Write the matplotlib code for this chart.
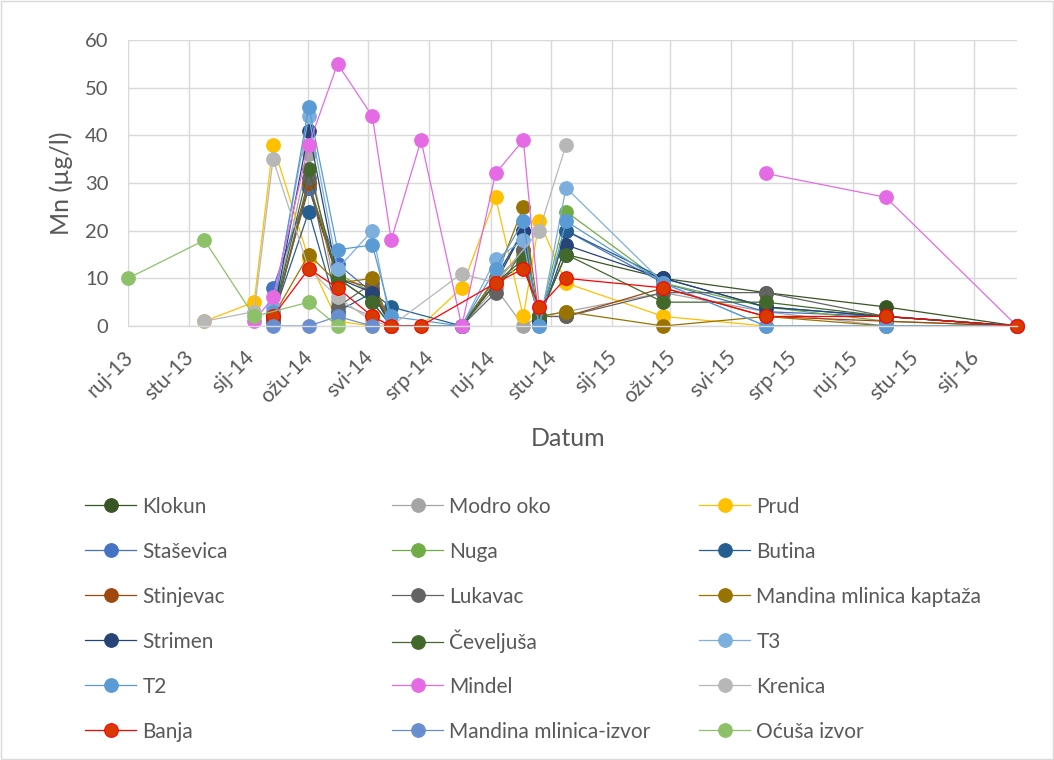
import matplotlib
matplotlib.use('Agg')
import matplotlib.pyplot as plt
import matplotlib.dates as mdates
import matplotlib.transforms as mtransforms
from matplotlib.lines import Line2D
from matplotlib.patches import Rectangle
from matplotlib.ticker import FuncFormatter, MultipleLocator
import datetime as dt

plt.rcParams['font.family'] = ['Lato', 'DejaVu Sans']

N = None          # no sample on that date
G = float('nan')  # break in the line

sample_dates = ['2013-09-01', '2013-11-17', '2014-01-06', '2014-01-25', '2014-03-02',
                '2014-03-31', '2014-05-05', '2014-05-24', '2014-06-23', '2014-08-03',
                '2014-09-06', '2014-10-04', '2014-10-20', '2014-11-16', '2015-02-22',
                '2015-06-05', '2015-10-04', '2016-02-13']

klokun        = [N, N, N, 2, 29, 10, 5, 0, N, 0, 9, 13, 2, 15, 10, 7, 4, 0]
modro_oko     = [N, N, N, 2, 36, 5, 2, 0, N, 0, 8, 0, 2, 3, 7, 3, 0, 0]
prud          = [N, 1, 5, 38, 14, 1, 0, 0, 0, 8, 27, 2, 22, 9, 2, 0, 0, 0]
stasevica     = [N, N, N, 8, 29, 13, 7, 0, N, 0, 10, 20, 1, 20, 9, 3, 2, 0]
nuga          = [N, N, N, 1, 30, 11, 7, 0, N, 0, 10, 15, 1, 24, 9, 4, 1, 0]
butina        = [N, N, N, 2, 24, 3, 7, 4, N, 0, 10, 20, 1, 20, 10, 4, 2, 0]
stinjevac     = [N, N, N, 1, 30, 10, 8, 0, N, 0, 9, 16, 2, 2, 8, 2, 1, 0]
lukavac       = [N, N, N, 1, 31, 4, 9, 0, N, 0, 7, 16, 2, 2, 7, 7, 2, 0]
kaptaza       = [N, N, N, 2, 15, 9, 10, 0, N, 0, 10, 25, 2, 3, 0, 2, 0, 0]
strimen       = [N, N, N, 2, 41, 10, 7, 0, N, 0, 9, 20, 1, 17, 10, 4, 2, 0]
ceveljusa     = [N, N, N, 2, 33, 10, 5, 0, N, 0, 9, 14, 2, 15, 5, 5, 2, 0]
t3            = [N, N, N, 4, 44, 12, 20, 0, N, 0, 14, 18, 0, 29, 9, 0, 0, 0]
t2            = [N, N, N, 3, 46, 16, 17, 2, N, 0, 12, 22, 0, 22, 9, 0, 0, 0]
mindel        = [N, N, 1, 6, 38, 55, 44, 18, 39, 0, 32, 39, 4, G, N, 32, 27, 0]
krenica       = [N, 1, 3, 35, 12, 6, 1, 0, N, 11, 9, N, 20, 38, N, N, N, N]
banja         = [N, N, N, 2, 12, 8, 2, 0, 0, N, 9, 12, 4, 10, 8, 2, 2, 0]
mandina_izvor = [N, N, N, 0, 0, 2, 0, N, N, N, N, N, N, N, N, N, N, N]
ocusa_izvor   = [10, 18, 2, N, 5, 0, N, N, N, N, N, N, N, N, N, N, N, N]

series_names = ['Klokun', 'Modro oko', 'Prud', 'Staševica', 'Nuga', 'Butina',
                'Stinjevac', 'Lukavac', 'Mandina mlinica kaptaža', 'Strimen',
                'Čeveljuša', 'T3', 'T2', 'Mindel', 'Krenica', 'Banja',
                'Mandina mlinica-izvor', 'Oćuša izvor']
series_values = [klokun, modro_oko, prud, stasevica, nuga, butina, stinjevac, lukavac,
                 kaptaza, strimen, ceveljusa, t3, t2, mindel, krenica, banja,
                 mandina_izvor, ocusa_izvor]
series_colors = ['#375623', '#A5A5A5', '#FFC000', '#4472C4', '#70AD47', '#255E91',
                 '#9E480E', '#636363', '#997300', '#264478', '#43682B', '#7CAFDD',
                 '#5B9BD5', '#E46BE4', '#B7B7B7', '#D83B01', '#698ED0', '#8CC168']
line_colors = list(series_colors)
line_colors[15] = '#FF0000'

month_abbr = ['sij', 'velj', 'ožu', 'tra', 'svi', 'lip', 'srp', 'kol', 'ruj', 'lis', 'stu', 'pro']
x_start = '2013-09-01'
x_end = '2016-02-13'

TXT = '#595959'
GRID = '#D9D9D9'

fig = plt.figure(figsize=(10.54, 7.6), dpi=100)
ax = fig.add_axes([128 / 1054, 1 - 326 / 760, (1017 - 128) / 1054, (326 - 40) / 760])

dates = [dt.datetime.strptime(d, '%Y-%m-%d') for d in sample_dates]
handles = []
for name, vals, fc, lc in zip(series_names, series_values, series_colors, line_colors):
    xs = [d for d, v in zip(dates, vals) if v is not None]
    ys = [v for v in vals if v is not None]
    ax.plot(xs, ys, color=lc, lw=0.9, marker='o', ms=9.8, mfc=fc, mec=lc, mew=0.8,
            clip_on=False)
    handles.append(Line2D([], [], color=lc, lw=0.9, marker='o', ms=9.8, mfc=fc, mec=lc,
                          mew=0.8, label=name))

ax.set_xlim(dt.datetime.strptime(x_start, '%Y-%m-%d'), dt.datetime.strptime(x_end, '%Y-%m-%d'))
ax.set_ylim(0, 60)
ax.yaxis.set_major_locator(MultipleLocator(10))
ax.xaxis.set_major_locator(mdates.MonthLocator(bymonth=[1, 3, 5, 7, 9, 11]))


def fmt_date(x, pos):
    d = mdates.num2date(x)
    return f"{month_abbr[d.month - 1]}-{d.year % 100:02d}"


ax.xaxis.set_major_formatter(FuncFormatter(fmt_date))
ax.grid(True, color=GRID, lw=1.0)
ax.set_axisbelow(True)
for s in ['top', 'right', 'left']:
    ax.spines[s].set_visible(False)
ax.spines['bottom'].set_color(GRID)
ax.spines['bottom'].set_linewidth(1.0)
ax.tick_params(axis='both', length=0, labelcolor=TXT)
ax.tick_params(axis='y', pad=14, labelsize=14.5)
ax.tick_params(axis='x', pad=0, labelsize=15)
offset = mtransforms.ScaledTranslation(2 / 100, -28 / 100, fig.dpi_scale_trans)
for lab in ax.get_xticklabels():
    lab.set_rotation(45)
    lab.set_ha('right')
    lab.set_va('center')
    lab.set_rotation_mode('anchor')
    lab.set_transform(lab.get_transform() + offset)

ax.set_ylabel('Mn (µg/l)', fontsize=18, color=TXT)
ax.yaxis.set_label_coords(-0.062, 0.5)
ax.set_xlabel('Datum', fontsize=18, color=TXT)
ax.xaxis.set_label_coords(0.495, -0.353)

cols = [[0, 3, 6, 9, 12, 15], [1, 4, 7, 10, 13, 16], [2, 5, 8, 11, 14, 17]]
col_x = [85, 392, 699]
row_y = [506.7, 551.7, 596.7, 641.7, 686.7, 731.7]
for cx, idx in zip(col_x, cols):
    for ry, i in zip(row_y, idx):
        lg = fig.legend(handles=[handles[i]], loc='center left',
                        bbox_to_anchor=(cx / 1054, 1 - ry / 760), frameon=False,
                        fontsize=15, handlelength=2.45, handletextpad=0.3,
                        borderpad=0, borderaxespad=0)
        for t in lg.get_texts():
            t.set_color(TXT)

fig.patches.append(Rectangle((0.001, 0.001), 0.998, 0.998, transform=fig.transFigure,
                             fill=False, edgecolor=GRID, lw=1.0))

fig.savefig('out.png', dpi=100)
